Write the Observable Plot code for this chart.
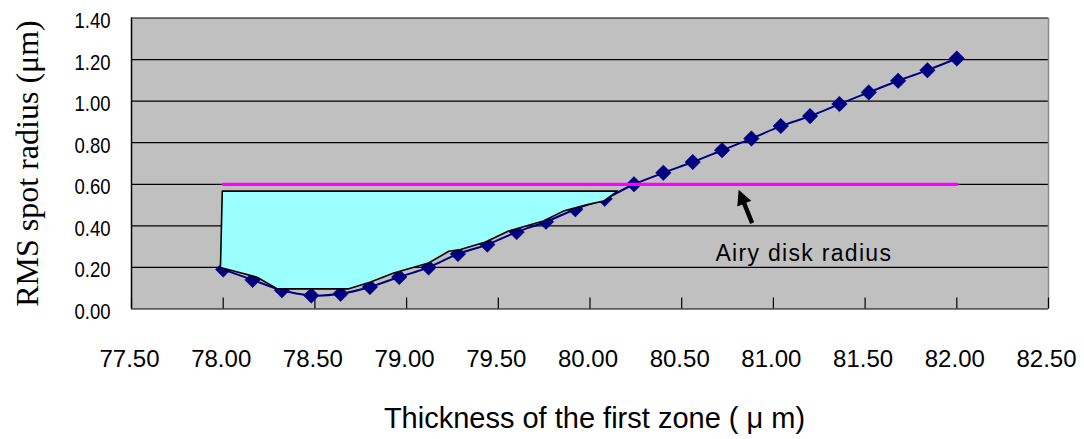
<!DOCTYPE html>
<html>
<head>
<meta charset="utf-8">
<script src="https://cdn.jsdelivr.net/npm/d3@7"></script>
<script src="https://cdn.jsdelivr.net/npm/@observablehq/plot@0.6"></script>
<style>
  html, body { margin: 0; padding: 0; background: #fff; }
  #chart svg { display: block; }
</style>
</head>
<body>
<div id="chart"></div>
<script>
// RMS spot radius versus thickness of the first zone
const thickness = [78.00, 78.16, 78.32, 78.48, 78.64, 78.80, 78.96, 79.12, 79.28, 79.44,
                   79.60, 79.76, 79.92, 80.08, 80.24, 80.40, 80.56, 80.72, 80.88, 81.04,
                   81.20, 81.36, 81.52, 81.68, 81.84, 82.00];
const rmsRadius = [0.190, 0.140, 0.090, 0.065, 0.073, 0.106, 0.154, 0.200, 0.265, 0.310,
                   0.370, 0.420, 0.480, 0.530, 0.600, 0.655, 0.707, 0.764, 0.820, 0.880,
                   0.928, 0.986, 1.042, 1.098, 1.149, 1.205];

// Airy disk radius reference level and its extent
const airyRadius = 0.60;
const airyExtent = [78.00, 82.00];
const airyLabel = "Airy disk radius";

// Shaded region where the spot is smaller than the Airy disk
const regionX = [77.985, 77.995, 80.150, 80.074, 79.986, 79.855, 79.746, 79.556, 79.430, 79.294,
                 79.230, 79.120, 78.930, 78.800, 78.685, 78.295, 78.185, 77.985];
const regionY = [0.200, 0.567, 0.567, 0.519, 0.503, 0.471, 0.423, 0.375, 0.322, 0.286,
                 0.278, 0.221, 0.173, 0.129, 0.097, 0.097, 0.153, 0.200];

// Axis ticks and titles
const xTicks = [77.5, 78.0, 78.5, 79.0, 79.5, 80.0, 80.5, 81.0, 81.5, 82.0, 82.5];
const yTicks = [0, 0.2, 0.4, 0.6, 0.8, 1.0, 1.2, 1.4];
const xTitle = "Thickness of the first zone ( μ m)";
const yTitle = "RMS spot radius (μm)";

const series = thickness.map((x, i) => ({x, y: rmsRadius[i]}));
const region = regionX.map((x, i) => ({x, y: regionY[i]}));
const airy = airyExtent.map(x => ({x, y: airyRadius}));

// Filled arrow head with a thick shaft, drawn pointing up before rotation
const filledArrow = {
  draw(context, l) {
    const hl = 15, hw = 7.5, sw = 2.2;
    context.moveTo(-sw, 0);
    context.lineTo(-sw, -l + hl);
    context.lineTo(-hw, -l + hl);
    context.lineTo(0, -l);
    context.lineTo(hw, -l + hl);
    context.lineTo(sw, -l + hl);
    context.lineTo(sw, 0);
    context.closePath();
  }
};

const sans = "'Liberation Sans', Arial, Helvetica, sans-serif";
const serif = "'Liberation Serif', 'Times New Roman', Times, serif";

const chart = Plot.plot({
  width: 1084,
  height: 439,
  marginLeft: 131,
  marginRight: 36,
  marginTop: 17.5,
  marginBottom: 130.5,
  style: {background: "#fff", color: "#000", fontFamily: sans, fontSize: "24px"},
  x: {domain: [77.5, 82.5], label: null},
  y: {domain: [0, 1.4], label: null},
  marks: [
    Plot.frame({fill: "#c0c0c0", stroke: null}),
    Plot.ruleY(yTicks, {stroke: "#000", strokeWidth: 1.2}),
    Plot.ruleX([xTicks[0]], {stroke: "#000", strokeWidth: 1.5}),
    Plot.ruleX([xTicks[xTicks.length - 1]], {stroke: "#8a8a8a", strokeWidth: 1.5}),
    Plot.ruleX(xTicks, {stroke: "#000", strokeWidth: 1.2, insetTop: 280}),

    Plot.line(series, {x: "x", y: "y", stroke: "#000080", strokeWidth: 2, curve: "catmull-rom"}),
    Plot.dot(series, {x: "x", y: "y", symbol: "diamond2", r: 7, fill: "#000080", stroke: "#000080", strokeWidth: 0.5}),

    Plot.line(region, {x: "x", y: "y", fill: "#9cffff", stroke: "#000", strokeWidth: 1.6, strokeLinejoin: "round"}),

    Plot.line(airy, {x: "x", y: "y", stroke: "#ff00ff", strokeWidth: 3.2}),

    Plot.vector([{x: 80.884, y: 0.413}], {
      x: "x", y: "y", anchor: "start", length: 36, rotate: -22,
      shape: filledArrow, fill: "#000", stroke: "none"
    }),
    Plot.text([airyLabel], {
      x: 80.684, y: 0.23, text: d => d, textAnchor: "start", lineAnchor: "bottom",
      fontSize: 23, fontFamily: sans, fill: "#000"
    }),

    Plot.axisX(xTicks, {
      tickSize: 0, tickPadding: 41, tickFormat: d3.format(".2f"),
      fontSize: 24, fontFamily: sans, dx: -2, label: null
    }),
    Plot.axisY(yTicks, {
      tickSize: 0, tickPadding: 21, tickFormat: d3.format(".2f"),
      fontSize: 22, fontFamily: sans, dy: 3, label: null
    }),

    Plot.text([xTitle], {
      frameAnchor: "bottom", text: d => d, lineAnchor: "bottom", textAnchor: "middle",
      dx: 4.5, dy: 118.5, fontSize: 29, fontFamily: sans, fill: "#000"
    }),
    Plot.text([yTitle], {
      frameAnchor: "left", text: d => d, rotate: -90, lineAnchor: "bottom", textAnchor: "middle",
      dx: -94, fontSize: 32, fontFamily: serif, fill: "#000"
    })
  ]
});

// Slightly widen the letter spacing of the annotation
d3.select(chart).selectAll("text")
  .filter(function () { return this.textContent === airyLabel; })
  .attr("letter-spacing", "1.3px");

// Condensed y tick labels
d3.select(chart).selectAll('g[aria-label="y-axis tick label"] text')
  .attr("textLength", 36)
  .attr("lengthAdjust", "spacingAndGlyphs");

document.getElementById("chart").append(chart);
</script>
</body>
</html>
